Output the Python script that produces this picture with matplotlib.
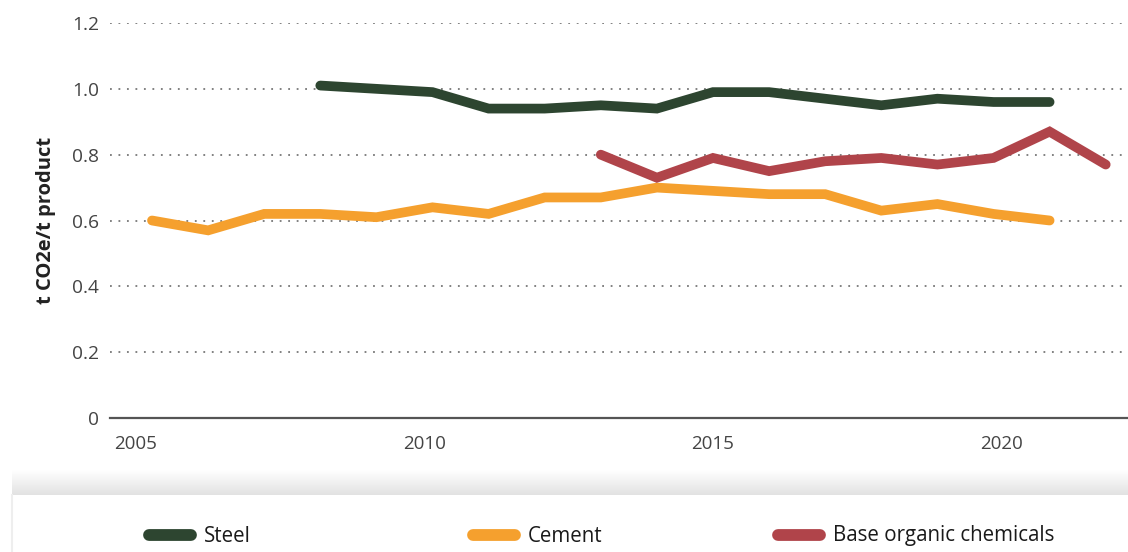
import numpy as np
import matplotlib
matplotlib.use('Agg')
import matplotlib.pyplot as plt
from matplotlib.lines import Line2D

plt.rcParams['font.family'] = ['Open Sans', 'DejaVu Sans']

# data (t CO2e / t product)
years_cement = list(range(2005, 2022))
cement = [0.60, 0.57, 0.62, 0.62, 0.61, 0.64, 0.62, 0.67, 0.67, 0.70,
          0.69, 0.68, 0.68, 0.63, 0.65, 0.62, 0.60]
years_steel = list(range(2008, 2022))
steel = [1.01, 1.00, 0.99, 0.94, 0.94, 0.95, 0.94, 0.99, 0.99, 0.97,
         0.95, 0.97, 0.96, 0.96]
years_chem = list(range(2013, 2023))
chem = [0.80, 0.73, 0.79, 0.75, 0.78, 0.79, 0.77, 0.79, 0.87, 0.77]

names = ['Steel', 'Cement', 'Base organic chemicals']
colors = ['#2d4530', '#f5a02e', '#b0444a']
yticks = [0, 0.2, 0.4, 0.6, 0.8, 1.0, 1.2]
ytick_labels = ['0', '0.2', '0.4', '0.6', '0.8', '1.0', '1.2']
xtick_labels = ['2005', '2010', '2015', '2020']
# label positions sit slightly off the yearly points in the original
xtick_pos = [2004.70, 2009.85, 2015.0, 2020.15]

W, H = 1128, 552
fig = plt.figure(figsize=(W / 100, H / 100), dpi=100)

# background layer: legend panel with soft shadow on top
bg = fig.add_axes([0, 0, 1, 1])
bg.set_xlim(0, W)
bg.set_ylim(H, 0)
bg.axis('off')
grad = np.linspace(0, 1, 50).reshape(-1, 1)
bg.imshow(grad, cmap=matplotlib.colors.LinearSegmentedColormap.from_list('sh', ['#ffffff', '#e2e2e2']),
          extent=(12, W, 495, 470), aspect='auto', zorder=1)
bg.add_patch(plt.Rectangle((12, 495), W - 12, H - 495, facecolor='white',
                           edgecolor='none', zorder=2))
bg.plot([12, 12], [495, H], color='#eeeeee', lw=1.5, zorder=3)

leg_x = [149, 473, 778]
leg_y = 535
for x0, name, c in zip(leg_x, names, colors):
    bg.add_line(Line2D([x0, x0 + 42], [leg_y, leg_y], color=c, lw=8.5,
                       solid_capstyle='round', zorder=4))
    bg.text(x0 + 55, leg_y + 1, name, fontsize=14.8, color='#1a1a1a',
            va='center', ha='left', zorder=4)

# main chart
x_left, x_right = 110, W
y_top, y_bot = 23, 418
ax = fig.add_axes([x_left / W, 1 - y_bot / H, (x_right - x_left) / W, (y_bot - y_top) / H])
ax.set_facecolor('none')

px_per_year = 56.1
x0_year = 2005 - (152 - x_left) / px_per_year
ax.set_xlim(x0_year, x0_year + (x_right - x_left) / px_per_year)
ax.set_ylim(0, 1.2)

ax.plot(years_cement, cement, color=colors[1], lw=7, solid_capstyle='round',
        solid_joinstyle='miter', zorder=3)
ax.plot(years_steel, steel, color=colors[0], lw=7, solid_capstyle='round',
        solid_joinstyle='miter', zorder=4)
ax.plot(years_chem, chem, color=colors[2], lw=7, solid_capstyle='round',
        solid_joinstyle='miter', zorder=3)

for yv in yticks[1:]:
    ax.axhline(yv, color='#777777', lw=1.3, linestyle=(0, (1, 3.7)), zorder=1)

for s in ['top', 'right', 'left']:
    ax.spines[s].set_visible(False)
ax.spines['bottom'].set_color('#555555')
ax.spines['bottom'].set_linewidth(1.6)

ax.set_yticks(yticks)
ax.set_yticklabels(ytick_labels)
ax.set_xticks(xtick_pos)
ax.set_xticklabels(xtick_labels)
ax.tick_params(axis='y', length=0, pad=8, labelsize=13.8, labelcolor='#444444')
ax.tick_params(axis='x', length=0, pad=12, labelsize=13.5, labelcolor='#444444')

fig.text(46 / W, 1 - 220 / H, 't CO2e/t product', rotation=90, fontsize=14.5,
         fontweight='bold', color='#222222', ha='center', va='center')

fig.savefig('out.png', dpi=100)
